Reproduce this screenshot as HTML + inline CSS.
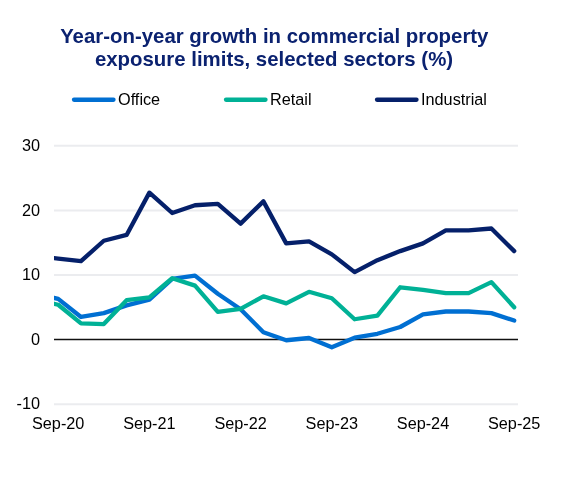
<!DOCTYPE html>
<html><head><meta charset="utf-8"><style>
html,body{margin:0;padding:0;background:#fff;width:561px;height:480px;overflow:hidden}
svg{display:block;font-family:"Liberation Sans",sans-serif;will-change:transform}
</style></head><body>
<svg width="561" height="480" viewBox="0 0 561 480">
<rect width="561" height="480" fill="#fff"/>
<g font-weight="bold" font-size="20.4" fill="#0b2270" text-anchor="middle">
<text x="274.3" y="43.1">Year-on-year growth in commercial property</text>
<text x="274.0" y="66.4">exposure limits, selected sectors (%)</text>
</g>
<g stroke-width="4.3" stroke-linecap="round" fill="none">
<line x1="74" x2="113.5" y1="99.75" y2="99.75" stroke="#006fd2"/>
<line x1="226" x2="265.5" y1="99.75" y2="99.75" stroke="#00b196"/>
<line x1="377" x2="416.5" y1="99.75" y2="99.75" stroke="#05206a"/>
</g>
<g font-size="16.25" fill="#000">
<text x="118" y="104.7">Office</text>
<text x="270" y="104.7">Retail</text>
<text x="421" y="104.7">Industrial</text>
</g>
<line x1="54" x2="518" y1="145.80" y2="145.80" stroke="#ebecef" stroke-width="2"/>
<line x1="54" x2="518" y1="210.40" y2="210.40" stroke="#ebecef" stroke-width="2"/>
<line x1="54" x2="518" y1="275.00" y2="275.00" stroke="#ebecef" stroke-width="2"/>
<line x1="54" x2="518" y1="404.20" y2="404.20" stroke="#ebecef" stroke-width="2"/>
<line x1="54" x2="518" y1="339.60" y2="339.60" stroke="#111" stroke-width="1.5"/>

<g font-size="16.25" fill="#000">
<text x="40" y="151.00" text-anchor="end">30</text>
<text x="40" y="215.60" text-anchor="end">20</text>
<text x="40" y="280.20" text-anchor="end">10</text>
<text x="40" y="344.80" text-anchor="end">0</text>
<text x="40" y="409.40" text-anchor="end">-10</text>
<text x="58.20" y="428.7" text-anchor="middle">Sep-20</text>
<text x="149.40" y="428.7" text-anchor="middle">Sep-21</text>
<text x="240.60" y="428.7" text-anchor="middle">Sep-22</text>
<text x="331.80" y="428.7" text-anchor="middle">Sep-23</text>
<text x="423.00" y="428.7" text-anchor="middle">Sep-24</text>
<text x="514.20" y="428.7" text-anchor="middle">Sep-25</text>
</g>
<defs><clipPath id="c"><rect x="54" y="0" width="500" height="480"/></clipPath></defs>
<g clip-path="url(#c)" fill="none" stroke-width="4.3" stroke-linejoin="round" stroke-linecap="round">
<path d="M54.00,297.93 L58.20,298.90 L81.00,316.99 L103.80,313.11 L126.60,305.36 L149.40,299.55 L172.20,278.88 L195.00,275.65 L217.80,293.73 L240.60,309.24 L263.40,332.17 L286.20,340.25 L309.00,337.99 L331.80,347.35 L354.60,337.66 L377.40,333.79 L400.20,327.00 L423.00,314.41 L445.80,311.50 L468.60,311.50 L491.40,313.11 L514.20,320.54" stroke="#006fd2"/>
<path d="M54.00,303.75 L58.20,304.72 L81.00,323.45 L103.80,324.10 L126.60,300.19 L149.40,297.29 L172.20,278.23 L195.00,285.66 L217.80,311.82 L240.60,308.92 L263.40,296.32 L286.20,303.42 L309.00,291.80 L331.80,298.26 L354.60,319.25 L377.40,315.70 L400.20,287.27 L423.00,289.86 L445.80,293.09 L468.60,293.09 L491.40,282.11 L514.20,307.30" stroke="#00b196"/>
<path d="M54.00,258.20 L58.20,258.53 L81.00,261.11 L103.80,240.76 L126.60,234.95 L149.40,192.64 L172.20,212.98 L195.00,205.23 L217.80,203.94 L240.60,223.64 L263.40,201.36 L286.20,243.35 L309.00,241.41 L331.80,254.33 L354.60,272.09 L377.40,260.14 L400.20,251.10 L423.00,243.35 L445.80,230.43 L468.60,230.43 L491.40,228.49 L514.20,251.10" stroke="#05206a"/>
</g>
</svg>
</body></html>
